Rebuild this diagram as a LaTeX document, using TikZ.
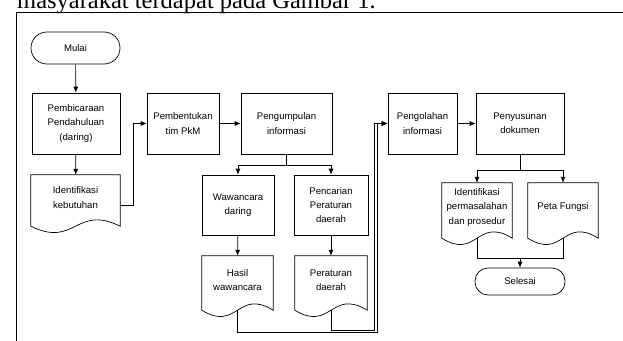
\documentclass[tikz,border=0pt]{standalone}
\usepackage{fontspec}
\setmainfont{Liberation Sans}
\newfontfamily\titlefont{Liberation Serif}
\usetikzlibrary{arrows.meta,calc}
\tikzset{
  base/.style={inner sep=0pt, align=center, font=\fontsize{9.6}{14.3}\selectfont, text=black},
  procbox/.style={base, draw, line width=0.7pt, minimum width=#1, minimum height=61pt},
  termbox/.style={base, draw, line width=0.7pt, rounded corners=13pt},
  docbox/.style={base, minimum width=#1},
  conn/.style={line width=0.7pt},
  arr/.style={conn, -{Latex[length=6pt,width=5pt]}},
  docline/.style={line width=0.7pt}
}
\newcommand\docoutline[1]{%
  \draw[docline] (#1.north west) -- (#1.north east) -- ($(#1.south east)+(0,6)$)
    .. controls ($(#1.south)+(0,-16)$) and ($(#1.south)+(0,28)$) ..
    ($(#1.south west)+(0,6)$) -- cycle;}
\begin{document}
\begin{tikzpicture}[x=1pt,y=-1pt]
\useasboundingbox (0,0) rectangle (623,340);
\clip (0,0) rectangle (623,340);
% title text (cut off)
\node[anchor=base west, inner sep=0pt, font=\titlefont\fontsize{24.5}{26}\selectfont] (title) at (17,9) {masyarakat terdapat pada Gambar 1.};
% frame
\draw[line width=0.8pt] (16,345) -- (16,12) -- (630,12);
% nodes
\node[termbox, minimum width=89pt, minimum height=32pt, rounded corners=16pt] (mulai) at (75.5,48) {Mulai};
\node[procbox=88pt] (p1) at (76,123.5) {Pembicaraan\\Pendahuluan\\(daring)};
\node[procbox=72pt] (p2) at (183,123.5) {Pembentukan\\tim PkM};
\node[procbox=91pt] (p3) at (286.5,123.5) {Pengumpulan\\informasi};
\node[procbox=69pt] (p4) at (422.5,123.5) {Pengolahan\\informasi};
\node[procbox=88pt] (p5) at (520,123.5) {Penyusunan\\dokumen};
\node[docbox=89pt, minimum height=45pt] (d1) at (75.5,197.5) {Identifikasi\\kebutuhan};
\node[procbox=72pt, minimum height=60pt] (p6) at (238,205) {Wawancara\\daring};
\node[procbox=74pt, minimum height=60pt] (p7) at (331,205) {Pencarian\\Peraturan\\daerah};
\node[docbox=71pt, minimum height=48pt] (d2) at (237.5,280) {Hasil\\wawancara};
\node[docbox=72pt, minimum height=48pt] (d3) at (331,280) {Peraturan\\daerah};
\node[docbox=70pt, minimum height=49pt] (d4) at (477,207.5) {Identifikasi\\permasalahan\\dan prosedur};
\node[docbox=70pt, minimum height=49pt] (d5) at (563,207.5) {Peta Fungsi};
\node[termbox, minimum width=90pt, minimum height=27pt] (selesai) at (520,281.5) {Selesai};
\docoutline{d1}
\docoutline{d2}
\docoutline{d3}
\docoutline{d4}
\docoutline{d5}
% connectors
\draw[arr] (mulai) -- (p1);
\draw[arr] (p1) -- (d1);
\draw[arr] ([yshift=-7.5pt]d1.east) -- ++(13,0) |- (p2.west);
\draw[arr] (p2) -- (p3);
\draw[conn] (p3.south) -- ++(0,10.5) coordinate (s1);
\draw[arr] (s1) -| (p6.north);
\draw[arr] (s1) -| (p7.north);
\draw[arr] (p6) -- (d2);
\draw[arr] (p7) -- (d3);
\draw[arr] ($(d2.south)+(0,6)$) |- (377,332) |- (p4.west);
\draw[arr] ($(d3.south)+(0,6)$) |- (374,330) |- (p4.west);
\draw[arr] (p4) -- (p5);
\draw[conn] (p5.south) -- ++(0,16) coordinate (s2);
\draw[arr] (s2) -| (d4.north);
\draw[arr] (s2) -| (d5.north);
\coordinate (j) at (520,258);
\draw[conn] ($(d4.south)+(0,6)$) |- (j);
\draw[conn] ($(d5.south)+(0,6)$) |- (j);
\draw[arr] (j) -- (selesai);
\end{tikzpicture}
\end{document}
